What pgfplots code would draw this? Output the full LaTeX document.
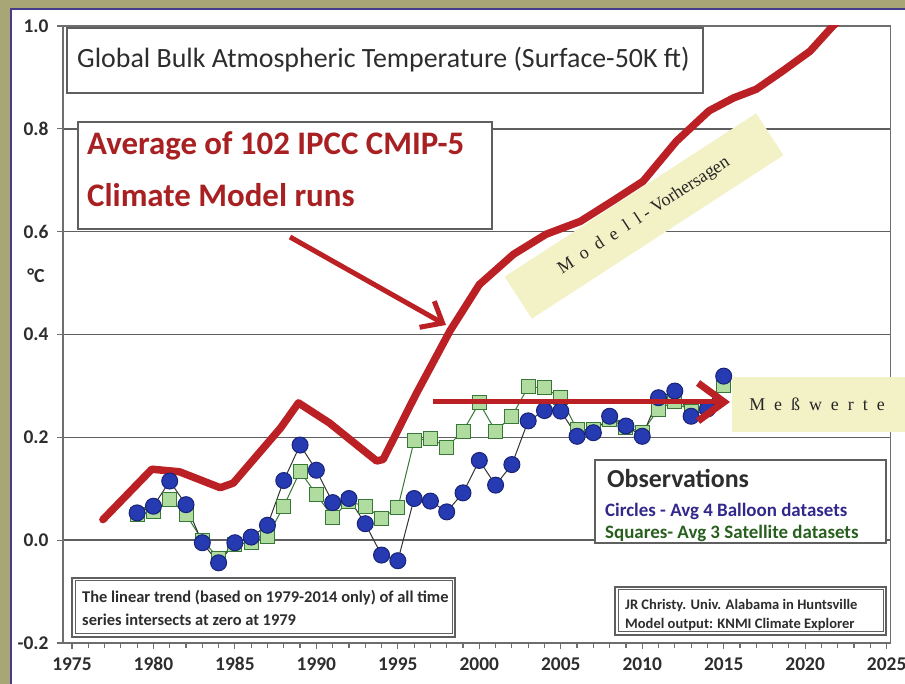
\documentclass[border=0pt]{standalone}
\usepackage{pgfplots}
\pgfplotsset{compat=1.18}
\usepackage{fontspec}
\setmainfont{Carlito}
\newfontfamily\serifl{Liberation Serif}
\usetikzlibrary{arrows.meta}
\definecolor{bgolive}{RGB}{168,166,118}
\definecolor{framblue}{RGB}{70,60,140}
\definecolor{axisgray}{RGB}{110,110,110}
\definecolor{gridgray}{RGB}{95,95,95}
\definecolor{modelred}{RGB}{187,33,36}
\definecolor{textred}{RGB}{168,32,34}
\definecolor{balloonblue}{RGB}{38,58,178}
\definecolor{balloonedge}{RGB}{25,35,120}
\definecolor{satfill}{RGB}{176,220,160}
\definecolor{satedge}{RGB}{55,120,55}
\definecolor{paleyellow}{RGB}{243,241,198}
\definecolor{textgray}{RGB}{45,45,45}
\definecolor{obsblue}{RGB}{50,40,140}
\definecolor{obsgreen}{RGB}{40,95,30}

\pgfplotstableread{
year temp
1976.9 0.040
1979.9 0.138
1981.6 0.133
1984.1 0.102
1984.9 0.111
1987.8 0.218
1988.9 0.267
1990.8 0.228
1993.7 0.154
1994.1 0.157
1996.1 0.283
1998.2 0.407
2000.0 0.497
2002.1 0.556
2004.1 0.595
2006.2 0.620
2008.2 0.660
2010.05 0.698
2012.1 0.776
2014.1 0.835
2015.6 0.860
2017.0 0.877
2018.6 0.912
2020.3 0.951
2021.7 1.000
2022.6 1.025
}\modeltable

\pgfplotstableread{
year temp
1979 0.053
1980 0.066
1981 0.115
1982 0.069
1983 -0.005
1984 -0.044
1985 -0.005
1986 0.006
1987 0.029
1988 0.116
1989 0.185
1990 0.136
1991 0.073
1992 0.081
1993 0.032
1994 -0.029
1995 -0.040
1996 0.081
1997 0.076
1998 0.055
1999 0.092
2000 0.155
2001 0.107
2002 0.147
2003 0.232
2004 0.252
2005 0.251
2006 0.202
2007 0.209
2008 0.241
2009 0.222
2010 0.202
2011 0.277
2012 0.290
2013 0.241
2014 0.255
2015 0.319
}\balloontable

\pgfplotstableread{
year temp
1979 0.050
1980 0.055
1981 0.080
1982 0.050
1983 0.000
1984 -0.035
1985 -0.008
1986 -0.005
1987 0.008
1988 0.066
1989 0.134
1990 0.089
1991 0.045
1992 0.075
1993 0.066
1994 0.043
1995 0.063
1996 0.193
1997 0.198
1998 0.181
1999 0.212
2000 0.267
2001 0.212
2002 0.241
2003 0.298
2004 0.296
2005 0.277
2006 0.215
2007 0.215
2008 0.235
2009 0.220
2010 0.210
2011 0.255
2012 0.270
2013 0.250
2014 0.260
2015 0.300
}\sattable

\begin{document}
\begin{tikzpicture}[x=1bp,y=1bp]
\fill[bgolive] (0,0) rectangle (905,684);
\fill[white] (11,0) rectangle (905,675);
\draw[framblue, line width=2.5bp] (11,0) -- (11,675) -- (905,675);

\begin{axis}[
  at={(63bp,41bp)}, anchor=south west,
  scale only axis, width=827.7bp, height=617bp,
  xmin=1974.45, xmax=2025.25, ymin=-0.2, ymax=1.0,
  xtick={1975,1980,1985,1990,1995,2000,2005,2010,2015,2020,2025},
  minor xtick={1975,1976,...,2025},
  ytick={-0.2,0,0.2,0.4,0.6,0.8,1.0},
  xtick pos=bottom, ytick pos=left,
  tick align=outside,
  major tick length=6bp, minor tick length=5bp,
  tick style={draw=axisgray, line width=1.2bp},
  axis line style={draw=axisgray, line width=1.5bp},
  ymajorgrids,
  major grid style={draw=gridgray, line width=1.6bp},
  /pgf/number format/assume math mode=true,
  tick label style={font=\fontsize{19.5}{19.5}\selectfont\bfseries, text=textgray},
  xticklabel style={/pgf/number format/1000 sep={}, yshift=-5bp},
  yticklabel style={/pgf/number format/.cd, fixed, fixed zerofill, precision=1, /tikz/.cd, anchor=east, xshift=-5bp},
]
\addplot[modelred, line width=7.5bp, line join=round, line cap=round] table[x=year, y=temp] {\modeltable};
\addplot[satedge, line width=1bp, mark=square*, mark size=7bp,
  mark options={fill=satfill, draw=satedge, line width=1bp}] table[x=year, y=temp] {\sattable};
\addplot[black!80, line width=1bp, mark=*, mark size=8bp,
  mark options={fill=balloonblue, draw=balloonedge, line width=1bp}] table[x=year, y=temp] {\balloontable};
\end{axis}

% y axis unit
\node[font=\fontsize{20}{20}\selectfont\bfseries, text=textgray] at (36,408) {°C};

% title box
\draw[gridgray, line width=1.6bp, fill=white] (67,656) rectangle (703,591);
\node[anchor=west, font=\fontsize{28}{28}\selectfont, text=textgray, inner sep=0pt] at (77,624) {Global Bulk Atmospheric Temperature (Surface-50K ft)};

% red model box
\draw[gridgray, line width=1.6bp, fill=white] (78,562) rectangle (492,455);
\node[anchor=base west, font=\fontsize{33}{33}\selectfont\bfseries, text=textred, inner sep=0pt] at (87,529) {Average of 102 IPCC CMIP-5};
\node[anchor=base west, font=\fontsize{33}{33}\selectfont\bfseries, text=textred, inner sep=0pt] at (87,477) {Climate Model runs};
\draw[modelred, line width=5bp, -{Straight Barb[length=18bp, width=30bp, line width=5bp]}] (290,447) -- (446,359);

% Modell - Vorhersagen label
\node[fill=paleyellow, rotate=33, minimum width=300bp, minimum height=50bp, inner sep=0pt,
  font=\serifl\fontsize{18}{18}\selectfont, text=black!85] at (644,468)
  {M\,\,\,o\,\,\,d\,\,\,e\,\,\,l\,\,\,l - Vorhersagen};

% horizontal arrow and Messwerte label
\fill[paleyellow] (732,307) rectangle (905,252);
\node[font=\serifl\fontsize{18}{18}\selectfont, text=black!85] at (817,280) {M\,\,\,e\,\,\,ß\,\,\,w\,\,\,e\,\,\,r\,\,\,t\,\,\,e};
\draw[modelred, line width=5bp, -{Straight Barb[length=26bp, width=38bp, line width=7bp]}] (433,282) -- (730,282);

% observations box
\draw[gridgray, line width=1.6bp, fill=white] (595,224) rectangle (886,141);
\node[anchor=base west, font=\fontsize{26}{26}\selectfont\bfseries, text=textgray, inner sep=0pt] at (607,196) {Observations};
\node[anchor=base west, font=\fontsize{19}{19}\selectfont\bfseries, text=obsblue, inner sep=0pt] at (605,167) {Circles - Avg 4 Balloon datasets};
\node[anchor=base west, font=\fontsize{19}{19}\selectfont\bfseries, text=obsgreen, inner sep=0pt] at (605,145) {Squares- Avg 3 Satellite datasets};

% linear trend note
\draw[gridgray, line width=1.2bp, fill=white] (72,106) rectangle (455,47);
\draw[gridgray, line width=1bp] (75,103) rectangle (452,50);
\node[anchor=base west, font=\fontsize{16.5}{16.5}\selectfont\bfseries, text=textgray, inner sep=0pt] at (82,81) {The linear trend (based on 1979-2014 only) of all time};
\node[anchor=base west, font=\fontsize{16.5}{16.5}\selectfont\bfseries, text=textgray, inner sep=0pt] at (82,58) {series intersects at zero at 1979};

% source note
\draw[gridgray, line width=1.2bp, fill=white] (615,97) rectangle (886,49);
\draw[gridgray, line width=1bp] (618,94) rectangle (883,52);
\node[anchor=base west, font=\fontsize{14.6}{14.6}\selectfont\bfseries, text=textgray, inner sep=0pt] at (625,74) {JR Christy. Univ. Alabama in Huntsville};
\node[anchor=base west, font=\fontsize{14.6}{14.6}\selectfont\bfseries, text=textgray, inner sep=0pt] at (625,55) {Model output: KNMI Climate Explorer};

\pgfresetboundingbox
\useasboundingbox (0,0) rectangle (905,684);
\end{tikzpicture}
\end{document}
